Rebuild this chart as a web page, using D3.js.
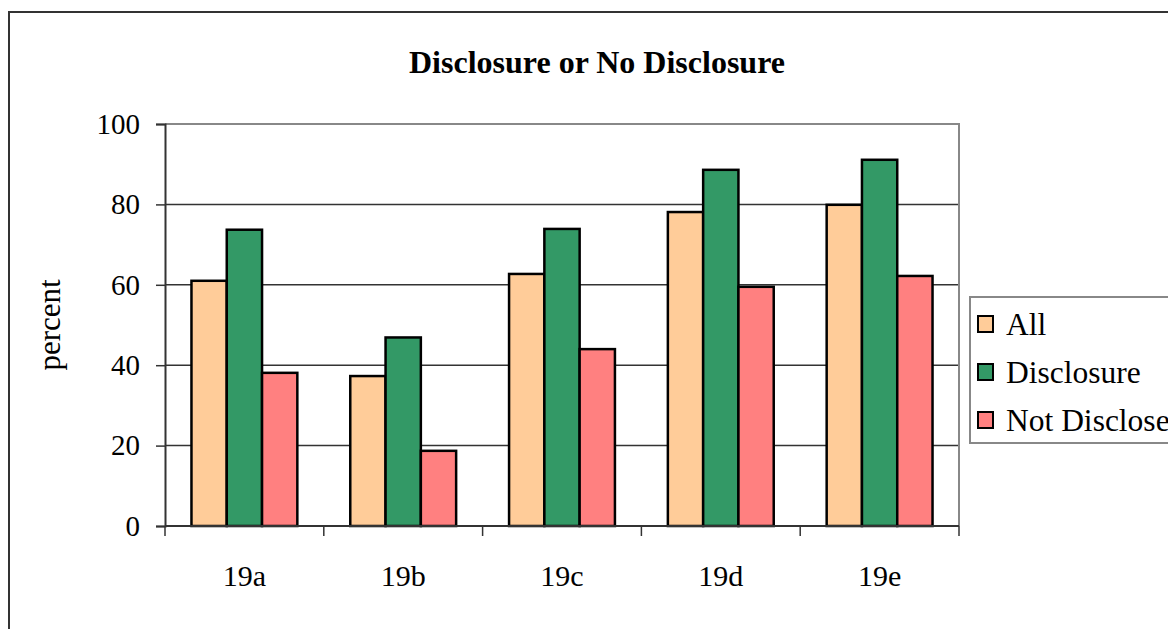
<!DOCTYPE html>
<html>
<head>
<meta charset="utf-8">
<script src="https://cdn.jsdelivr.net/npm/d3@7"></script>
<style>
  html, body { margin: 0; padding: 0; background: #fff; }
  svg { display: block; }
  svg text { font-family: "Liberation Serif", "Times New Roman", serif; fill: #000; }
</style>
</head>
<body>
<svg id="chart" width="1168" height="629"></svg>
<script>
// Survey items and percentages per group
const categories = ["19a", "19b", "19c", "19d", "19e"];
const seriesNames = ["All", "Disclosure", "Not Disclose"];
const allValues = [61.0, 37.3, 62.7, 78.1, 79.9];
const disclosureValues = [73.7, 46.9, 73.9, 88.6, 91.1];
const notDiscloseValues = [38.1, 18.7, 44.0, 59.5, 62.2];
const yTicks = [0, 20, 40, 60, 80, 100];
const colors = ["#FFCC99", "#339966", "#FF8080"];

const FONT = "Liberation Serif";
const seriesValues = [allValues, disclosureValues, notDiscloseValues];
const rows = categories.map((c, i) => ({
  cat: c,
  vals: seriesNames.map((s, j) => ({ key: s, value: seriesValues[j][i], idx: j }))
}));

const svg = d3.select("#chart");

// Outer chart frame
svg.append("rect")
  .attr("x", 9).attr("y", 12)
  .attr("width", 1200).attr("height", 700)
  .attr("fill", "none").attr("stroke", "#333").attr("stroke-width", 2);

const plot = { left: 165, top: 124, right: 959, bottom: 526 };

const x = d3.scaleBand().domain(categories)
  .range([plot.left, plot.right]).paddingInner(0).paddingOuter(0);
const inner = d3.scaleBand().domain(seriesNames)
  .range([x.bandwidth() / 6, x.bandwidth() * 5 / 6]);
const y = d3.scaleLinear().domain([0, 100]).range([plot.bottom, plot.top]);

// Gridlines
svg.append("g").selectAll("line")
  .data(yTicks.filter(t => t > 0 && t < 100))
  .join("line")
  .attr("x1", plot.left).attr("x2", plot.right)
  .attr("y1", d => y(d)).attr("y2", d => y(d))
  .attr("stroke", "#333").attr("stroke-width", 1.5);

// Plot area frame (top and right)
svg.append("path")
  .attr("d", `M${plot.left},${plot.top}H${plot.right}V${plot.bottom}`)
  .attr("fill", "none").attr("stroke", "#888").attr("stroke-width", 2);

// Bars
svg.append("g").selectAll("g")
  .data(rows).join("g")
  .attr("transform", d => `translate(${x(d.cat)},0)`)
  .selectAll("rect")
  .data(d => d.vals).join("rect")
  .attr("x", d => inner(d.key))
  .attr("width", inner.bandwidth())
  .attr("y", d => y(d.value))
  .attr("height", d => y(0) - y(d.value))
  .attr("fill", d => colors[d.idx])
  .attr("stroke", "#000").attr("stroke-width", 2.5);

// Y axis
const yAxis = d3.axisLeft(y).tickValues(yTicks).tickSize(9).tickPadding(16);
const gy = svg.append("g").attr("transform", `translate(${plot.left},0)`).call(yAxis)
  .attr("font-family", FONT).attr("font-size", 29);
gy.select(".domain").attr("stroke", "#333").attr("stroke-width", 2);
gy.selectAll(".tick line").attr("stroke", "#333").attr("stroke-width", 1.5);
gy.selectAll("text").attr("font-size", 29).attr("font-family", FONT).attr("fill", "#000");

// X axis with ticks at category boundaries
svg.append("line")
  .attr("x1", plot.left).attr("x2", plot.right)
  .attr("y1", plot.bottom).attr("y2", plot.bottom)
  .attr("stroke", "#333").attr("stroke-width", 2);
const boundaries = categories.map(c => x(c)).concat([x(categories[categories.length - 1]) + x.bandwidth()]);
svg.append("g").selectAll("line")
  .data(boundaries).join("line")
  .attr("x1", d => d).attr("x2", d => d)
  .attr("y1", plot.bottom).attr("y2", plot.bottom + 10)
  .attr("stroke", "#333").attr("stroke-width", 1.5);
svg.append("g").selectAll("text")
  .data(categories).join("text")
  .attr("x", d => x(d) + x.bandwidth() / 2)
  .attr("y", 586)
  .attr("text-anchor", "middle")
  .attr("font-family", FONT)
  .attr("font-size", 30)
  .text(d => d);

// Title
svg.append("text")
  .attr("x", 597).attr("y", 73)
  .attr("text-anchor", "middle")
  .attr("font-family", FONT)
  .attr("font-size", 32).attr("font-weight", "bold")
  .text("Disclosure or No Disclosure");

// Y axis label
svg.append("text")
  .attr("transform", "translate(60,325) rotate(-90)")
  .attr("text-anchor", "middle")
  .attr("font-family", FONT)
  .attr("font-size", 31)
  .text("percent");

// Legend
const lg = svg.append("g");
lg.append("rect")
  .attr("x", 970).attr("y", 297).attr("width", 260).attr("height", 146)
  .attr("fill", "#fff").attr("stroke", "#888").attr("stroke-width", 2);
const items = lg.selectAll("g.item").data(seriesNames).join("g")
  .attr("transform", (d, i) => `translate(978,${324 + i * 48})`);
items.append("rect")
  .attr("x", 0).attr("y", -8).attr("width", 15).attr("height", 16)
  .attr("fill", (d, i) => colors[i]).attr("stroke", "#000").attr("stroke-width", 2);
items.append("text")
  .attr("x", 28).attr("y", 11)
  .attr("font-family", FONT)
  .attr("font-size", 31.5)
  .text(d => d);
</script>
</body>
</html>
